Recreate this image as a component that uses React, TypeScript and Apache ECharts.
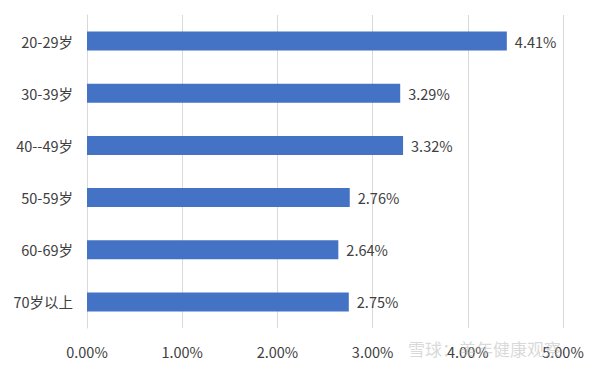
import React, { useEffect, useRef } from "react";
import * as echarts from "echarts";

const categories = ["20-29岁", "30-39岁", "40--49岁", "50-59岁", "60-69岁", "70岁以上"];
const values = [4.41, 3.29, 3.32, 2.76, 2.64, 2.75];
const axisMax = 5;
const axisStep = 1;

export default function App() {
  const ref = useRef<HTMLDivElement>(null);
  useEffect(() => {
    const chart = echarts.init(ref.current!, undefined, { renderer: "svg" });
    const font = '"Noto Sans CJK SC", "Noto Sans", sans-serif';
    chart.setOption({
      animation: false,
      backgroundColor: "#ffffff",
      grid: { left: 87, right: 37, top: 15, bottom: 41 },
      xAxis: {
        type: "value",
        min: 0,
        max: axisMax,
        interval: axisStep,
        axisLine: { show: false },
        axisTick: { show: false },
        splitLine: { show: true, lineStyle: { color: "#d9d9d9", width: 1 } },
        axisLabel: {
          formatter: (v: number) => v.toFixed(2) + "%",
          color: "#404040",
          fontSize: 14.5,
          fontFamily: font,
          margin: 16,
        },
      },
      yAxis: {
        type: "category",
        data: categories,
        inverse: true,
        axisLine: { show: true, lineStyle: { color: "#d9d9d9" } },
        axisTick: { show: false },
        axisLabel: { color: "#404040", fontSize: 14.5, fontFamily: font, margin: 14 },
      },
      series: [
        {
          type: "bar",
          data: values,
          barWidth: 19,
          itemStyle: { color: "#4472C4" },
          label: {
            show: true,
            position: "right",
            distance: 8,
            formatter: (p: any) => p.value.toFixed(2) + "%",
            color: "#404040",
            fontSize: 14.5,
            fontFamily: font,
          },
        },
      ],
      graphic: [
        {
          type: "text",
          left: 408,
          top: 340,
          z: 100,
          style: {
            text: "雪球：美年健康观察",
            fill: "rgba(180,180,180,0.5)",
            fontSize: 17,
            fontFamily: font,
          },
        },
      ],
    });
    return () => chart.dispose();
  }, []);
  return <div ref={ref} style={{ width: 600, height: 369, position: "absolute", left: 0, top: 0 }} />;
}
